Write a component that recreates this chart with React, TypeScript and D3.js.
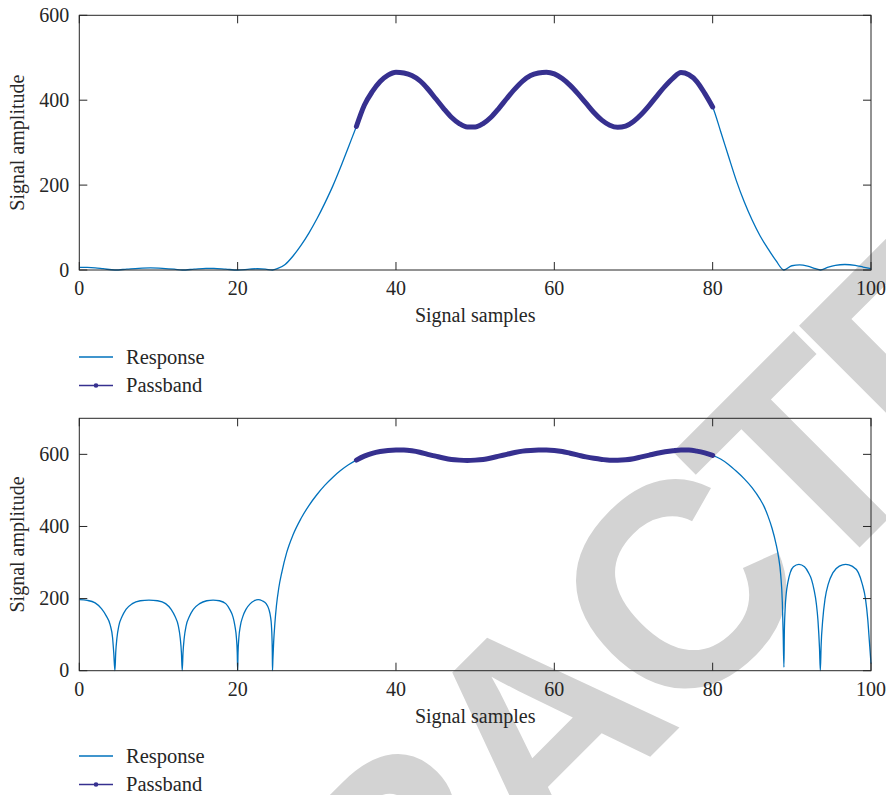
import React from "react";
import * as d3 from "d3";

// ---- data: [sample, amplitude] ----
const topStopLow: [number, number][] = [
  [0, 6], [1, 6], [2, 5], [3, 3], [4.5, 0], [6, 2], [7.5, 4], [9, 5], [10.5, 4], [12, 2], [13, 0],
  [14.5, 2], [16, 4], [17, 4], [18.5, 2], [20, 0], [21.5, 2], [22.5, 3], [23.5, 2], [24.4, 0],
];
const topRise: [number, number][] = [
  [25, 3], [26, 13], [27, 33], [28, 58], [29, 87], [30, 120], [31, 157], [32, 197], [33, 242], [34, 290],
];
const topPass: [number, number][] = [
  [35, 338], [36, 388], [37, 420], [38, 444], [39, 459], [40, 466], [41, 464], [42, 458], [43, 446], [44, 427],
  [45, 404], [46, 381], [47, 360], [48, 345], [49, 337], [50, 337], [51, 345], [52, 360], [53, 381], [54, 404],
  [55, 426], [56, 445], [57, 458], [58, 464], [59, 466], [60, 462], [61, 451], [62, 435], [63, 415], [64, 393],
  [65, 371], [66, 353], [67, 341], [68, 336], [69, 339], [70, 350], [71, 367], [72, 388], [73, 411], [74, 433],
  [75, 452], [76, 465], [77, 460], [78, 444], [79, 416], [80, 384],
];
const topFall: [number, number][] = [
  [81, 327], [82, 268], [83, 210], [84, 160], [85, 117], [86, 80], [87, 50], [88, 22], [89, 0],
];
const topStopHigh: [number, number][] = [
  [90, 10], [91, 12], [92, 9], [93, 3], [93.6, 0], [94.5, 6], [95.5, 11], [96.7, 13], [98, 11], [99, 7], [100, 3],
];

const botStopLow: [number, number][] = [
  [0, 197], [1, 195], [2, 188], [2.8, 172], [3.4, 152], [3.9, 127], [4.2, 92], [4.35, 50], [4.5, 0],
  [4.6, 50], [4.75, 90], [5.0, 125], [5.4, 150], [5.9, 170], [6.7, 186], [7.7, 194], [8.8, 196], [9.9, 194],
  [10.9, 186], [11.6, 170], [12.1, 150], [12.5, 125], [12.75, 90], [12.9, 50], [13.0, 0],
  [13.1, 50], [13.25, 90], [13.5, 125], [13.9, 150], [14.4, 170], [15.2, 186], [16.1, 194], [16.9, 196],
  [17.7, 194], [18.5, 186], [19.0, 170], [19.4, 150], [19.65, 125], [19.85, 90], [19.95, 50], [20.0, 0],
  [20.05, 50], [20.15, 90], [20.35, 125], [20.65, 150], [21.05, 170], [21.6, 186], [22.1, 194], [22.6, 197],
  [23.1, 194], [23.6, 186], [23.95, 170], [24.15, 150], [24.27, 125], [24.34, 90], [24.38, 50], [24.4, 0],
];
const botRise: [number, number][] = [
  [24.45, 30], [24.55, 80], [24.7, 130], [24.9, 180], [25.2, 230], [25.6, 275], [26.2, 328], [27, 377],
  [28, 422], [29, 458], [30, 488], [31, 514], [32, 536], [33, 555], [34, 571],
];
const botPass: [number, number][] = [
  [35, 584], [36, 595], [37, 603], [38, 608], [39, 611], [40, 612], [41, 612], [42, 610], [43, 606], [44, 600],
  [45, 595], [46, 590], [47, 586], [48, 584], [49, 583], [50, 584], [51, 586], [52, 590], [53, 595], [54, 600],
  [55, 605], [56, 609], [57, 611], [58, 612], [59, 612], [60, 611], [61, 608], [62, 603], [63, 598], [64, 593],
  [65, 589], [66, 586], [67, 584], [68, 584], [69, 585], [70, 588], [71, 593], [72, 598], [73, 603], [74, 607],
  [75, 610], [76, 612], [77, 612], [78, 609], [79, 604], [80, 597],
];
const botFall: [number, number][] = [
  [81, 587], [82, 572], [83, 553], [84, 532], [85, 507], [86, 475], [86.5, 455], [87, 428], [87.5, 395],
  [88, 352], [88.3, 318], [88.6, 265], [88.8, 190], [88.9, 110], [89.0, 10],
];
const botStopHigh: [number, number][] = [
  [89.05, 100], [89.15, 170], [89.3, 215], [89.5, 245], [89.8, 272], [90.2, 288], [90.9, 295], [91.6, 288],
  [92.1, 272], [92.5, 252], [92.8, 225], [93.1, 185], [93.3, 140], [93.5, 60], [93.6, 0],
  [93.7, 70], [93.9, 140], [94.2, 200], [94.6, 240], [95.2, 272], [96, 290], [96.8, 295], [97.6, 290],
  [98.4, 272], [98.9, 240], [99.3, 200], [99.6, 140], [99.8, 80], [100, 20],
];

const xTicks = [0, 20, 40, 60, 80, 100];
const yTicks = [0, 200, 400, 600];
const topDomain = [0, 600];
const botDomain = [0, 700];
const seriesNames = ["Response", "Passband"];
const xLabel = "Signal samples";
const yLabel = "Signal amplitude";
const watermark = "RETRACTED";

const RESP = "#0072BD";
const PASS = "#36308f";
const AX = "#262626";
const FONT = "'Liberation Serif', 'Times New Roman', serif";

type Pt = [number, number];

function Panel({ resp, pass, domain, top, bottom, labelY, legendY }: any) {
  const left = 79.3, right = 871;
  const x = d3.scaleLinear().domain([0, 100]).range([left, right]);
  const y = d3.scaleLinear().domain(domain).range([bottom, top]);
  const line = d3.line<Pt>().x((d) => x(d[0])).y((d) => y(d[1])).curve(d3.curveMonotoneX);
  const tl = 8;
  return (
    <g>
      <path d={line(resp) || ""} fill="none" stroke={RESP} strokeWidth={1.3} />
      <path d={line(pass) || ""} fill="none" stroke={PASS} strokeWidth={5} strokeLinecap="round" strokeLinejoin="round" />
      <rect x={left} y={top} width={right - left} height={bottom - top} fill="none" stroke={AX} strokeWidth={1} />
      {xTicks.map((t) => (
        <g key={"x" + t}>
          <line x1={x(t)} x2={x(t)} y1={bottom} y2={bottom - tl} stroke={AX} />
          <line x1={x(t)} x2={x(t)} y1={top} y2={top + tl} stroke={AX} />
          <text x={x(t)} y={bottom + 25} textAnchor="middle" fontFamily={FONT} fontSize={20} fill={AX}>{t}</text>
        </g>
      ))}
      {yTicks.map((t) => (
        <g key={"y" + t}>
          <line x1={left} x2={left + tl} y1={y(t)} y2={y(t)} stroke={AX} />
          <line x1={right} x2={right - tl} y1={y(t)} y2={y(t)} stroke={AX} />
          <text x={left - 10} y={y(t) + 6.5} textAnchor="end" fontFamily={FONT} fontSize={20} fill={AX}>{t}</text>
        </g>
      ))}
      <text x={(left + right) / 2} y={labelY} textAnchor="middle" fontFamily={FONT} fontSize={20} fill={AX}>{xLabel}</text>
      <text transform={`translate(24,${(top + bottom) / 2}) rotate(-90)`} textAnchor="middle" fontFamily={FONT} fontSize={20} fill={AX}>{yLabel}</text>
      <g>
        <line x1={79} x2={113} y1={legendY} y2={legendY} stroke={RESP} strokeWidth={1.5} />
        <text x={126} y={legendY + 6.5} fontFamily={FONT} fontSize={20.5} fill={AX}>{seriesNames[0]}</text>
        <line x1={79} x2={113} y1={legendY + 28.5} y2={legendY + 28.5} stroke={PASS} strokeWidth={1.5} />
        <circle cx={96} cy={legendY + 28.5} r={2.3} fill={PASS} />
        <text x={126} y={legendY + 35} fontFamily={FONT} fontSize={20.5} fill={AX}>{seriesNames[1]}</text>
      </g>
    </g>
  );
}

export default function App() {
  const topResp = [...topStopLow, ...topRise, ...topPass, ...topFall, ...topStopHigh];
  const botResp = [...botStopLow, ...botRise, ...botPass, ...botFall, ...botStopHigh];
  const S = 290;
  const P = [21, 1386];
  return (
    <svg width={886} height={795} style={{ position: "absolute", left: 0, top: 0, background: "#fff" }}>
      <rect width={886} height={795} fill="#fff" />
      <text
        transform={`translate(${P[0]},${P[1]}) rotate(-45)`}
        textAnchor="start"
        fontFamily="'Liberation Sans', Arial, sans-serif"
        fontWeight="bold"
        fontSize={S}
        letterSpacing={-15}
        fill="#d3d3d3"
      >
        {watermark}
      </text>
      <Panel resp={topResp} pass={topPass} domain={topDomain} top={15.3} bottom={270} labelY={322} legendY={357} />
      <Panel resp={botResp} pass={botPass} domain={botDomain} top={418.3} bottom={670.7} labelY={723} legendY={756} />
    </svg>
  );
}
